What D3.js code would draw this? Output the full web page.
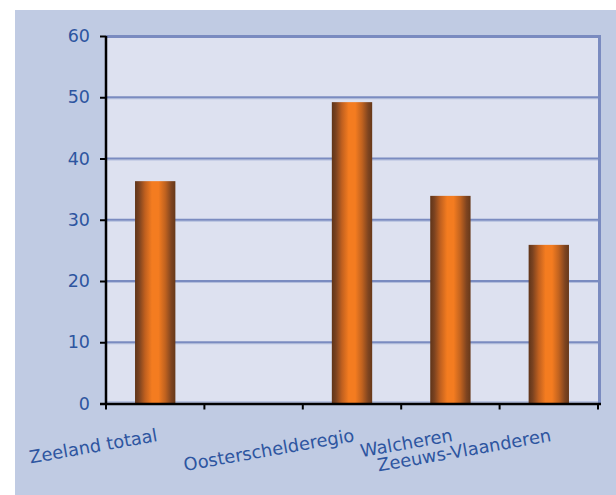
<!DOCTYPE html>
<html>
<head>
<meta charset="utf-8">
<script src="https://cdn.jsdelivr.net/npm/d3@7/dist/d3.min.js"></script>
<style>
  html, body { margin: 0; padding: 0; background: #ffffff; }
  svg { display: block; }
</style>
</head>
<body>
<svg id="chart" width="616" height="495"></svg>
<script>
// ---- data ----
const categories = ["Zeeland totaal", "", "Oosterschelderegio", "Walcheren", "Zeeuws-Vlaanderen"];
const values = [36.3, null, 49.2, 33.9, 25.9];
const yTicks = [0, 10, 20, 30, 40, 50, 60];

// ---- layout ----
const W = 616, H = 495;
const plot = { left: 106, right: 598, top: 36, bottom: 403.5 };
const textColor = "#2d55a0";
const font = "'DejaVu Sans', Verdana, sans-serif";

const svg = d3.select("#chart");

// outer background
svg.append("rect").attr("x", 15).attr("y", 10).attr("width", W - 15).attr("height", H - 10)
  .attr("fill", "#c0cbe3");

const x = d3.scaleBand().domain(d3.range(categories.length))
  .range([plot.left, plot.right]).paddingInner(0.59).paddingOuter(0.295);
const y = d3.scaleLinear().domain([0, 60]).range([plot.bottom, plot.top]);

// gradient
const defs = svg.append("defs");
const grad = defs.append("linearGradient").attr("id", "barGrad")
  .attr("x1", "0%").attr("x2", "100%").attr("y1", "0%").attr("y2", "0%");
[["0%", "#5f3418"], ["10%", "#7a4220"], ["25%", "#c0601f"], ["42%", "#f47c20"], ["58%", "#f47c20"], ["75%", "#c0621f"], ["90%", "#7e4420"], ["100%", "#663819"]]
  .forEach(([o, c]) => grad.append("stop").attr("offset", o).attr("stop-color", c));

// plot area
svg.append("rect").attr("x", plot.left).attr("y", plot.top)
  .attr("width", plot.right - plot.left).attr("height", plot.bottom - plot.top)
  .attr("fill", "#dde1f0");

// gridlines
const grid = svg.append("g");
yTicks.filter(t => t > 0 && t < 60).forEach(t => {
  grid.append("line").attr("x1", plot.left).attr("x2", plot.right)
    .attr("y1", y(t) + 1.5).attr("y2", y(t) + 1.5)
    .attr("stroke", "#b3bedd").attr("stroke-width", 1);
  grid.append("line").attr("x1", plot.left).attr("x2", plot.right)
    .attr("y1", y(t)).attr("y2", y(t))
    .attr("stroke", "#7a8bc0").attr("stroke-width", 2);
});
// bottom light line
grid.append("line").attr("x1", plot.left).attr("x2", plot.right)
  .attr("y1", plot.bottom - 1.5).attr("y2", plot.bottom - 1.5)
  .attr("stroke", "#a9b5da").attr("stroke-width", 1.5);

// plot border top & right
svg.append("line").attr("x1", plot.left).attr("x2", plot.right + 3)
  .attr("y1", plot.top + 0.5).attr("y2", plot.top + 0.5)
  .attr("stroke", "#7a8bc0").attr("stroke-width", 3);
svg.append("line").attr("x1", plot.right + 1.5).attr("x2", plot.right + 1.5)
  .attr("y1", plot.top - 1).attr("y2", plot.bottom)
  .attr("stroke", "#7a8bc0").attr("stroke-width", 3);

// bars
svg.append("g").selectAll("rect")
  .data(values.map((v, i) => ({ v, i })).filter(d => d.v != null))
  .join("rect")
  .attr("x", d => x(d.i)).attr("width", x.bandwidth())
  .attr("y", d => y(d.v)).attr("height", d => y(0) - y(d.v))
  .attr("fill", "url(#barGrad)");

// y axis
const yAxis = svg.append("g").attr("transform", `translate(${plot.left},0)`)
  .call(d3.axisLeft(y).tickValues(yTicks).tickSize(6).tickPadding(10).tickSizeOuter(0));
yAxis.select(".domain").attr("stroke", "#000").attr("stroke-width", 2.5)
  .attr("d", `M0,${plot.top}V${plot.bottom + 1}`);
yAxis.selectAll(".tick line").attr("stroke", "#000").attr("stroke-width", 2);
yAxis.selectAll(".tick text").attr("fill", textColor)
  .style("font-family", font).style("font-size", "17.5px");

// x axis
const step = x.step();
const bounds = d3.range(categories.length + 1).map(i => plot.left + i * step);
const xAxisG = svg.append("g");
xAxisG.append("line").attr("x1", plot.left - 6).attr("x2", plot.right + 3)
  .attr("y1", plot.bottom + 0.5).attr("y2", plot.bottom + 0.5)
  .attr("stroke", "#000").attr("stroke-width", 2.5);
xAxisG.selectAll("line.t").data(bounds).join("line").attr("class", "t")
  .attr("x1", d => d).attr("x2", d => d)
  .attr("y1", plot.bottom).attr("y2", plot.bottom + 6)
  .attr("stroke", "#000").attr("stroke-width", 2);

// category labels
svg.append("g").selectAll("text")
  .data(categories.map((c, i) => ({ c, i })).filter(d => d.c))
  .join("text")
  .attr("transform", d => `translate(${x(d.i) + x.bandwidth() / 2 + 3},441) rotate(-10)`)
  .attr("text-anchor", "end")
  .attr("fill", textColor)
  .style("font-family", font).style("font-size", "17.8px")
  .text(d => d.c);
</script>
</body>
</html>
